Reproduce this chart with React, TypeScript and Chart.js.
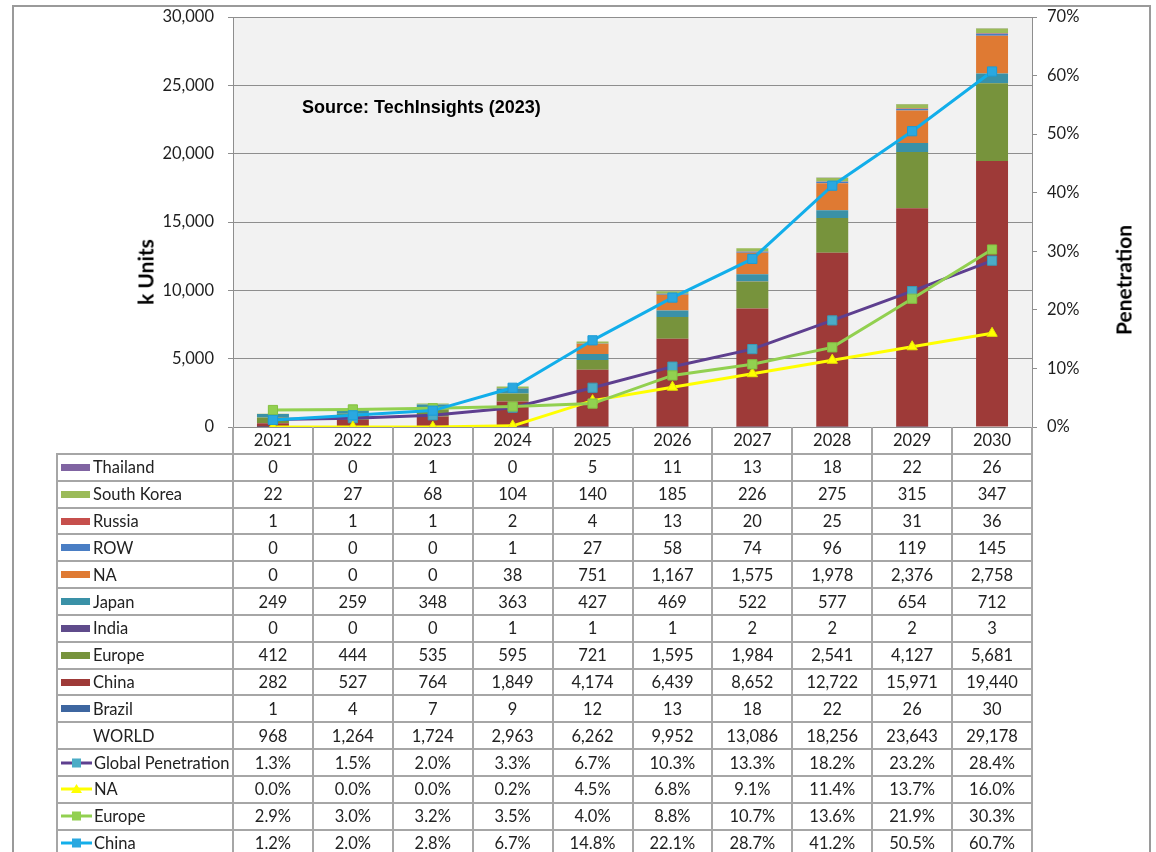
import React, { useEffect, useRef, useState } from 'react';
import { Chart, registerables } from 'chart.js';

Chart.register(...registerables);

// ---------- data ----------
const years = ['2021', '2022', '2023', '2024', '2025', '2026', '2027', '2028', '2029', '2030'];

const thailand = [0, 0, 1, 0, 5, 11, 13, 18, 22, 26];
const southKorea = [22, 27, 68, 104, 140, 185, 226, 275, 315, 347];
const russia = [1, 1, 1, 2, 4, 13, 20, 25, 31, 36];
const rowUnits = [0, 0, 0, 1, 27, 58, 74, 96, 119, 145];
const naUnits = [0, 0, 0, 38, 751, 1167, 1575, 1978, 2376, 2758];
const japan = [249, 259, 348, 363, 427, 469, 522, 577, 654, 712];
const india = [0, 0, 0, 1, 1, 1, 2, 2, 2, 3];
const europeUnits = [412, 444, 535, 595, 721, 1595, 1984, 2541, 4127, 5681];
const chinaUnits = [282, 527, 764, 1849, 4174, 6439, 8652, 12722, 15971, 19440];
const brazil = [1, 4, 7, 9, 12, 13, 18, 22, 26, 30];
const world = [968, 1264, 1724, 2963, 6262, 9952, 13086, 18256, 23643, 29178];

const globalPen = [1.3, 1.5, 2.0, 3.3, 6.7, 10.3, 13.3, 18.2, 23.2, 28.4];
const naPen = [0.0, 0.0, 0.0, 0.2, 4.5, 6.8, 9.1, 11.4, 13.7, 16.0];
const europePen = [2.9, 3.0, 3.2, 3.5, 4.0, 8.8, 10.7, 13.6, 21.9, 30.3];
const chinaPen = [1.2, 2.0, 2.8, 6.7, 14.8, 22.1, 28.7, 41.2, 50.5, 60.7];

const unitTicks = [0, 5000, 10000, 15000, 20000, 25000, 30000];
const penTicks = [0, 10, 20, 30, 40, 50, 60, 70];

// ---------- styles ----------
const FONT = 'Lato, "Open Sans", sans-serif';
const GRID = '#8e8e8e';
const TABLE_LINE = '#a6a6a6';
const TICK_SIZE = 16.5;

const barSeries = [
  { label: 'Brazil', data: brazil, color: '#3D66A0' },
  { label: 'China', data: chinaUnits, color: '#9E3A38' },
  { label: 'Europe', data: europeUnits, color: '#77933C' },
  { label: 'India', data: india, color: '#5F4B8B' },
  { label: 'Japan', data: japan, color: '#3A91A7' },
  { label: 'NA', data: naUnits, color: '#DF7A33' },
  { label: 'ROW', data: rowUnits, color: '#4A7EC4' },
  { label: 'Russia', data: russia, color: '#C64F4C' },
  { label: 'South Korea', data: southKorea, color: '#9BBB59' },
  { label: 'Thailand', data: thailand, color: '#8064A2' },
];

const lineSeries = [
  { label: 'Global Penetration', data: globalPen, color: '#5E3F8F', marker: '#4BACC6', markerBorder: '#3C98B4', style: 'rect', order: 4 },
  { label: 'NA', data: naPen, color: '#FFFF00', marker: '#FFFF00', markerBorder: '#E8E800', style: 'triangle', order: 3 },
  { label: 'Europe', data: europePen, color: '#92D050', marker: '#92D050', markerBorder: '#84C040', style: 'rect', order: 2 },
  { label: 'China', data: chinaPen, color: '#12AEEA', marker: '#2AA8E0', markerBorder: '#1C9CD6', style: 'rect', order: 1 },
];

const fmtUnits = (v: number) => v.toLocaleString('en-US');
const fmtPen = (v: number) => v.toFixed(1) + '%';

const plotBg = {
  id: 'plotBg',
  beforeDraw(chart: any) {
    const { ctx, chartArea } = chart;
    ctx.save();
    ctx.fillStyle = '#F2F2F2';
    ctx.fillRect(chartArea.left, chartArea.top, chartArea.right - chartArea.left, chartArea.bottom - chartArea.top);
    ctx.restore();
  },
};

type Geo = { left: number; right: number; bottom: number };

function LineSwatch({ color, marker, style }: { color: string; marker: string; style: string }) {
  return (
    <svg width={31} height={12} style={{ marginRight: 2, flex: '0 0 auto' }}>
      <line x1={0} y1={6} x2={31} y2={6} stroke={color} strokeWidth={3} />
      {style === 'triangle' ? (
        <polygon points="15.5,1 21,10 10,10" fill={marker} />
      ) : (
        <rect x={11} y={1.5} width={9} height={9} fill={marker} />
      )}
    </svg>
  );
}

const axisTitleStyle = (cx: number, cy: number): React.CSSProperties => ({
  position: 'absolute',
  left: cx,
  top: cy,
  transform: 'translate(-50%, -50%) rotate(-90deg)',
  fontFamily: FONT,
  fontWeight: 'bold',
  fontSize: 21,
  color: '#000',
  whiteSpace: 'nowrap',
  lineHeight: 1,
});

const fitVertical = (width: number) => (s: any) => {
  s.width = width;
  s.paddingTop = 0;
  s.paddingBottom = 0;
};

export default function App() {
  const canvasRef = useRef<HTMLCanvasElement>(null);
  const [geo, setGeo] = useState<Geo | null>(null);

  useEffect(() => {
    const canvas = canvasRef.current;
    if (!canvas) return;
    Chart.defaults.font.family = FONT;
    const chart = new Chart(canvas, {
      type: 'bar',
      data: {
        labels: years,
        datasets: [
          ...barSeries.map((s) => ({
            type: 'bar' as const,
            label: s.label,
            data: s.data,
            backgroundColor: s.color,
            borderWidth: 0,
            yAxisID: 'y',
            stack: 'units',
            order: 10,
            barPercentage: 0.4,
            categoryPercentage: 1,
          })),
          ...lineSeries.map((s) => ({
            type: 'line' as const,
            label: s.label,
            data: s.data,
            borderColor: s.color,
            backgroundColor: s.marker,
            pointBackgroundColor: s.marker,
            pointBorderColor: s.markerBorder,
            pointBorderWidth: 1,
            pointStyle: s.style as any,
            pointRadius: s.style === 'triangle' ? 6 : 6.5,
            borderWidth: 3,
            tension: 0,
            fill: false,
            yAxisID: 'y1',
            order: s.order,
          })),
        ],
      },
      options: {
        responsive: false,
        animation: false,
        devicePixelRatio: 1,
        layout: { padding: { left: 131, right: 20, top: 17, bottom: 0 } },
        plugins: { legend: { display: false }, tooltip: { enabled: false } },
        scales: {
          x: {
            stacked: true,
            grid: { display: false, drawTicks: false },
            border: { display: false },
            ticks: { font: { size: TICK_SIZE, family: FONT }, color: '#1e1e1e', padding: 4 },
            afterFit: (s: any) => {
              s.height = 425;
              s.paddingLeft = 0;
              s.paddingRight = 0;
            },
          },
          y: {
            type: 'linear',
            position: 'left',
            stacked: true,
            min: 0,
            max: 30000,
            afterBuildTicks: (s: any) => {
              s.ticks = unitTicks.map((v) => ({ value: v }));
            },
            ticks: {
              font: { size: TICK_SIZE, family: FONT },
              color: '#1e1e1e',
              padding: 14,
              callback: (v: any) => fmtUnits(Number(v)),
            },
            grid: { color: GRID, lineWidth: 1, tickLength: 5, drawTicks: true },
            border: { display: true, color: GRID, width: 1 },
            title: { display: false },
            afterFit: fitVertical(102),
          },
          y1: {
            type: 'linear',
            position: 'right',
            min: 0,
            max: 70,
            afterBuildTicks: (s: any) => {
              s.ticks = penTicks.map((v) => ({ value: v }));
            },
            ticks: {
              font: { size: TICK_SIZE, family: FONT },
              color: '#1e1e1e',
              padding: 10,
              callback: (v: any) => v + '%',
            },
            grid: { drawOnChartArea: false, color: GRID, lineWidth: 1, tickLength: 5, drawTicks: true },
            border: { display: true, color: GRID, width: 1 },
            title: { display: false },
            afterFit: fitVertical(104),
          },
        },
      },
      plugins: [plotBg],
    } as any);
    const ca = chart.chartArea;
    setGeo({ left: ca.left, right: ca.right, bottom: ca.bottom });
    return () => chart.destroy();
  }, []);

  // table rows
  type Row = { label: string; values: string[]; swatch: React.ReactNode };
  const barRows: Row[] = [...barSeries].reverse().map((s) => ({
    label: s.label,
    values: s.data.map(fmtUnits),
    swatch: <span style={{ display: 'inline-block', width: 29, height: 7, background: s.color, marginRight: 3, flex: '0 0 auto' }} />,
  }));
  const worldRow: Row = {
    label: 'WORLD',
    values: world.map(fmtUnits),
    swatch: <span style={{ display: 'inline-block', width: 32, flex: '0 0 auto' }} />,
  };
  const lineRows: Row[] = lineSeries.map((s) => ({
    label: s.label,
    values: s.data.map(fmtPen),
    swatch: <LineSwatch color={s.color} marker={s.marker} style={s.style} />,
  }));
  const rows = [...barRows, worldRow, ...lineRows];

  const tableLeft = 57;
  const rowH = 26.83;
  const headerBottom = 454;
  const elems: React.ReactNode[] = [];
  if (geo) {
    const colW = (geo.right - geo.left) / years.length;
    const tableBottom = headerBottom + rows.length * rowH;
    for (let k = 0; k <= rows.length; k++) {
      elems.push(
        <div key={'h' + k} style={{ position: 'absolute', left: tableLeft, top: headerBottom + k * rowH - 1, width: geo.right - tableLeft + 1, height: 2, background: TABLE_LINE }} />
      );
    }
    elems.push(
      <div key="vL" style={{ position: 'absolute', left: tableLeft - 1, top: headerBottom - 1, width: 2, height: tableBottom - headerBottom + 2, background: TABLE_LINE }} />
    );
    for (let c = 0; c <= years.length; c++) {
      elems.push(
        <div key={'v' + c} style={{ position: 'absolute', left: geo.left + c * colW - 1, top: geo.bottom, width: 2, height: tableBottom - geo.bottom + 2, background: TABLE_LINE }} />
      );
    }
    rows.forEach((r, i) => {
      const top = headerBottom + i * rowH;
      elems.push(
        <div key={'l' + i} style={{ position: 'absolute', left: tableLeft + 4, top, width: geo.left - tableLeft - 4, height: rowH, display: 'flex', alignItems: 'center', fontFamily: FONT, fontSize: 16.5, color: '#222', whiteSpace: 'nowrap' }}>
          {r.swatch}
          <span>{r.label}</span>
        </div>
      );
      r.values.forEach((v, c) => {
        elems.push(
          <div key={'c' + i + '_' + c} style={{ position: 'absolute', left: geo.left + c * colW, top, width: colW, height: rowH, display: 'flex', alignItems: 'center', justifyContent: 'center', fontFamily: FONT, fontSize: 16.5, color: '#222', whiteSpace: 'nowrap' }}>
            {v}
          </div>
        );
      });
    });
  }

  return (
    <div style={{ position: 'absolute', left: 0, top: 0, width: 1156, height: 852, overflow: 'hidden', background: '#fff' }}>
      <div style={{ position: 'absolute', left: 12, top: 5, width: 1139, height: 900, border: '2px solid #9a9a9a', boxSizing: 'border-box' }} />
      <canvas ref={canvasRef} width={1156} height={852} style={{ position: 'absolute', left: 0, top: 0, width: 1156, height: 852 }} />
      <div style={{ position: 'absolute', left: 302, top: 97, fontFamily: '"Liberation Sans", Arial, sans-serif', fontWeight: 'bold', fontSize: 18, lineHeight: '21px', color: '#000', whiteSpace: 'nowrap' }}>
        Source: TechInsights (2023)
      </div>
      <div style={axisTitleStyle(145, 272)}>k Units</div>
      <div style={axisTitleStyle(1123, 280)}>Penetration</div>
      {elems}
    </div>
  );
}
